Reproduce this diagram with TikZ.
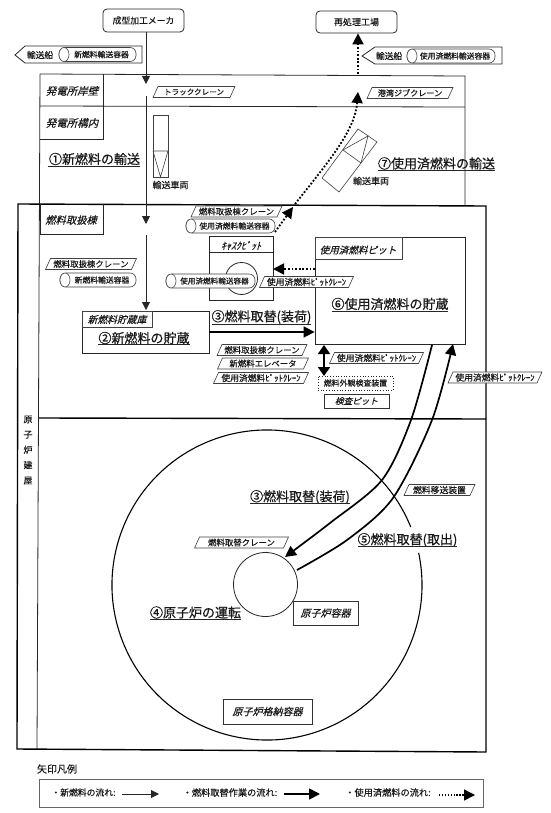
\documentclass[tikz,border=0pt]{standalone}
\usepackage{fontspec}
\setmainfont[FakeBold=0.2]{Noto Sans CJK JP}
\newfontfamily\slantf[FakeSlant=0.25,FakeBold=0.2]{Noto Sans CJK JP}
\newfontfamily\titlef[FakeBold=0.6]{Noto Sans CJK JP}
\usetikzlibrary{arrows.meta,calc}
\newcommand{\fs}[1]{\fontsize{#1}{#1}\selectfont}
\begin{document}
\begin{tikzpicture}[x=1pt,y=-1pt,
  line/.style={draw=black!85,line width=0.8pt},
  wall/.style={draw=black,line width=1.4pt},
  thin/.style={draw=black!75,line width=0.6pt},
  txt/.style={inner sep=0pt,text=black!90},
  ital/.style={inner sep=0pt,text=black!90,font=\slantf},
  title/.style={inner sep=0pt,text=black!90,font=\titlef\fs{13}},
  uline/.style={draw=black!85,line width=0.9pt},
  newf/.style={draw=black!85,line width=0.8pt,-{Triangle[length=8pt,width=8pt]}},
  reff/.style={draw=black,line width=1.7pt,-{Triangle[length=11pt,width=11pt]}},
  usedf/.style={draw=black,line width=1.8pt,dash pattern=on 1.8pt off 1.8pt,-{Triangle[length=11pt,width=11pt]}}
]
\useasboundingbox (0,0) rectangle (550,813);
\newcommand{\Pg}[5]{% name, cx, cy, w, text
  \draw[thin,fill=white] ($(#2,#3)+(-#4/2-3,5.5)$) -- ($(#2,#3)+(-#4/2+2,-5.5)$) -- ($(#2,#3)+(#4/2+3,-5.5)$) -- ($(#2,#3)+(#4/2-2,5.5)$) -- cycle;
  \node[txt,font=\fs{8.4}] (#1) at (#2,#3) {#5};
}
\newcommand{\Cask}[5]{% name,x0,x1,cy,text
  \draw[thin,fill=white,rounded corners=6pt] (#2,#4-7) rectangle (#3,#4+7);
  \draw[thin,fill=white] ({#2+5},#4) ellipse (5 and 7);
  \node[txt] (#1) at ({(#2+#3)/2+4},#4) {#5};
}
% ---- outlines
\draw[line] (40,74) -- (465,76) -- (465,205);
\draw[line] (40,74) -- (37,750);
\draw[line] (40,106) -- (465,107);
\draw[line] (103,74) -- (103,139) -- (40,139);
\draw[wall] (18,204) -- (486,206) -- (486,752) -- (17,749) -- cycle;
\draw[wall] (39,418) -- (486,419);
% ---- zones
\node[ital,font=\slantf\fs{10.5}] (wharf) at (72,91) {発電所岸壁};
\node[ital,font=\slantf\fs{10.5}] (yard) at (72,123) {発電所構内};
\draw[line] (40,204) -- (40,234) -- (103,234) -- (103,204);
\node[ital,font=\slantf\fs{10.3}] (fhb) at (71,220) {燃料取扱棟};
\node[txt,font=\fontsize{9}{15.3}\selectfont,align=center] (rb) at (28,450) {原\\子\\炉\\建\\屋};
% ---- factories
\node[draw=black!85,line width=0.8pt,rounded corners=4pt,minimum width=81pt,minimum height=23pt,inner sep=0pt,font=\fs{8.8},text=black!90] (maker) at (143.5,20.5) {成型加工メーカ};
\node[draw=black!85,line width=0.8pt,rounded corners=4pt,minimum width=81pt,minimum height=22pt,inner sep=0pt,font=\fs{9},text=black!90] (rep) at (356.5,22) {再処理工場};
% ---- ships
\draw[line] (15,55) -- (25,46) -- (142,46) -- (142,63) -- (25,63) -- cycle;
\node[txt,font=\fs{8.7}] (ship1) at (40,55) {輸送船};
\Cask{c1}{59}{136}{54.5}{\fs{7.8}新燃料輸送容器}
\draw[line] (362,56) -- (375,47) -- (502,47) -- (502,64) -- (375,64) -- cycle;
\node[txt,font=\fs{8.7}] (ship2) at (389,56) {輸送船};
\Cask{c2}{407}{495}{56}{\fs{7.8}使用済燃料輸送容器}
% ---- site cranes
\Pg{tc}{194}{92}{76}{\fs{7.6}トラッククレーン}
\Pg{jib}{410}{93}{80}{\fs{8.1}港湾ジブクレーン}
% ---- new fuel flow
\coordinate (a1) at (146,84);
\coordinate (a2) at (146,96);
\coordinate (a3) at (146,224);
\coordinate (a4) at (146,235);
\coordinate (a5) at (146,310);
\draw[newf] (maker.south -| a1) -- (a1);
\draw[newf] (a2) -- (a3);
\draw[newf] (a4) -- (a5);
% ---- truck 1
\draw[thin] (153,115) rectangle (168,177);
\draw[thin] (153,151) -- (168,151) (153,151) -- (160.5,177) -- (168,151);
\node[txt,font=\fs{9}] (tr1) at (170.5,185) {輸送車両};
\node[title] (t1) at (94.5,159) {①新燃料の輸送};
\draw[uline] (48,166) -- (140,166);
% ---- truck 2
\draw[thin] (322,178) -- (358,129) -- (377,142) -- (339,192) -- cycle;
\draw[thin] (343,150) -- (361,163) (343,150) -- (368,136) -- (361,163);
\node[txt,font=\fs{9}] (tr2) at (371,181) {輸送車両};
\node[title] (t7) at (436.5,163.5) {⑦使用済燃料の輸送};
\draw[uline] (378,170.5) -- (495,170.5);
% ---- fuel handling building
\coordinate (d4) at (275,232);
\coordinate (d5) at (293,207);
\draw[usedf] (d4) -- (d5);
\Pg{fc1}{236.5}{211.5}{85}{燃料取扱棟クレーン}
\Cask{c3}{186}{275}{226}{\fs{7.8}使用済燃料輸送容器}
\Pg{fc2}{91}{264}{85}{燃料取扱棟クレーン}
\Cask{c4}{60}{136}{280}{\fs{7.8}新燃料輸送容器}
% ---- new fuel store
\node[draw=black!85,line width=0.8pt,minimum width=127pt,minimum height=42pt,inner sep=0pt] (store) at (145.5,332) {};
\draw[thin] (82,311) rectangle (152,327);
\node[ital,font=\slantf\fs{9.8}] (storeL) at (117,319.5) {新燃料貯蔵庫};
\node[title] (t2) at (144,338) {②新燃料の貯蔵};
\draw[uline] (98,344.5) -- (190,344.5);
% ---- cask pit
\draw[line] (209,236) rectangle (273,300);
\draw[line] (209,252) -- (273,252);
\node[ital,font=\slantf\fs{10}] (ck) at (241,245.5) {ｷｬｽｸﾋﾟｯﾄ};
\node[draw=black!85,line width=0.8pt,circle,minimum size=32pt,inner sep=0pt] (cc) at (241.5,278.5) {};
\Cask{c5}{166}{255}{281}{\fs{7.6}使用済燃料輸送容器}
% ---- spent fuel pit
\node[draw=black!85,line width=0.8pt,minimum width=150pt,minimum height=107pt,inner sep=0pt] (pit) at (390,290.5) {};
\draw[thin] (315,237) rectangle (402,259);
\node[ital,font=\slantf\fs{9.6}] (pitL) at (358,250) {使用済燃料ピット};
\node[title] (t6) at (390,304) {⑥使用済燃料の貯蔵};
\draw[uline] (332,311) -- (448,311);
\coordinate (u1) at (315,269);
\coordinate (u2) at (273,269);
\draw[usedf] (u1) -- (u2);
\Pg{pc1}{306.5}{282}{88}{\fs{8.8}使用済燃料ﾋﾟｯﾄｸﾚｰﾝ}
% ---- loading arrow
\draw[reff] (store.east |- 0,332) -- (pit.west |- 0,332);
\node[title] (t3) at (261.5,317) {③燃料取替(装荷)};
\draw[uline] (212,324) -- (311,324);
\Pg{fc3}{262}{350}{84}{燃料取扱棟クレーン}
\Pg{el}{263}{363.5}{85}{新燃料エレベータ}
\Pg{pc2}{261}{378}{89}{\fs{8.8}使用済燃料ﾋﾟｯﾄｸﾚｰﾝ}
% ---- inspection
\Pg{pc3}{376.5}{358}{88}{\fs{8.8}使用済燃料ﾋﾟｯﾄｸﾚｰﾝ}
\node[draw=black!85,dotted,line width=0.7pt,minimum width=75pt,minimum height=14pt,inner sep=0pt,font=\fs{7.9},text=black!90] (insp) at (355.5,383) {燃料外観検査装置};
\node[draw=black!80,line width=0.7pt,minimum width=65pt,minimum height=14pt,inner sep=0pt,font=\slantf\fs{8.6},text=black!90] (ipit) at (356.5,401) {検査ピット};
\coordinate (i1) at (324,345);
\coordinate (i2) at (324,376);
\draw[draw=black,line width=1.8pt,{Triangle[length=9pt,width=12pt]}-{Triangle[length=9pt,width=12pt]}] (i1) -- (i2);
\Pg{pc4}{495}{377.5}{88}{\fs{8.8}使用済燃料ﾋﾟｯﾄｸﾚｰﾝ}
% ---- containment
\coordinate (cc0) at (267,585);
\draw[draw=black,line width=1.1pt] ($(cc0)+(-22:155)$) arc[start angle=-22,end angle=-372,radius=155];
% ---- reactor vessel
\node[draw=black!85,line width=0.8pt,fill=white,circle,minimum size=64pt,inner sep=0pt] (rv) at (265.5,584.5) {};
\node[draw=black!80,line width=0.7pt,fill=white,minimum width=65pt,minimum height=24pt,inner sep=0pt,font=\slantf\fs{10},text=black!90] (rvL) at (325.5,613) {原子炉容器};
\node[draw=black!80,line width=0.7pt,fill=white,minimum width=89pt,minimum height=25pt,inner sep=0pt,font=\slantf\fs{10},text=black!90] (cvL) at (267.5,711.5) {原子炉格納容器};
\node[title] (t4) at (195.5,612.5) {④原子炉の運転};
\draw[uline] (150,619.5) -- (241,619.5);
% ---- transfer lines
\coordinate (p1) at (432,345);
\coordinate (p1a) at (411,420);
\coordinate (p1b) at (382,480);
\coordinate (p1c) at (330,523);
\coordinate (p1d) at (285,557);
\coordinate (p2d) at (297,570);
\coordinate (p2c) at (347,540);
\coordinate (p2b) at (393,498);
\coordinate (p2a) at (432,420);
\coordinate (p2) at (453,344);
\draw[reff] plot[smooth,tension=0.5] coordinates {(p1) (p1a) (p1b) (p1c) (p1d)};
\draw[reff] plot[smooth,tension=0.5] coordinates {(p2d) (p2c) (p2b) (p2a) (p2)};
\node[title] (t3b) at (300,497) {③燃料取替(装荷)};
\draw[uline] (250,503.5) -- (350,503.5);
\node[title] (t5) at (407.5,540) {⑤燃料取替(取出)};
\draw[uline] (358,546.5) -- (457,546.5);
\Pg{tr}{439.5}{490}{65}{\fs{8.8}燃料移送装置}
\Pg{rc}{241.5}{542.5}{88}{燃料取替クレーン}
% ---- spent fuel path up
\coordinate (d0) at (295,204);
\coordinate (d1) at (358,92);
\coordinate (d2) at (358,74);
\coordinate (d3) at (358,33);
\draw[usedf] (d0) .. controls (330,160) and (355,130) .. (d1);
\draw[usedf] (d2) -- (rep.south -| d3);
% ---- legend
\node[txt,font=\fs{10}] (lgT) at (57,769) {矢印凡例};
\node[draw=black!60,line width=0.7pt,minimum width=444pt,minimum height=28pt,inner sep=0pt] (lg) at (261.5,793) {};
\node[txt,font=\fs{8.8}] (l1) at (83.5,792.5) {・新燃料の流れ:};
\coordinate (l1a) at (122,794); \coordinate (l1b) at (159,794);
\draw[newf] (l1a) -- (l1b);
\node[txt,font=\fs{9.2}] (l2) at (230,792.5) {・燃料取替作業の流れ:};
\coordinate (l2a) at (284,794); \coordinate (l2b) at (320,794);
\draw[reff] (l2a) -- (l2b);
\node[txt,font=\fs{9.2}] (l3) at (388,792.5) {・使用済燃料の流れ:};
\coordinate (l3a) at (439,795); \coordinate (l3b) at (475,795);
\draw[usedf,line width=1.3pt,dash pattern=on 1.3pt off 1.6pt] (l3a) -- (l3b);
\end{tikzpicture}
\end{document}
